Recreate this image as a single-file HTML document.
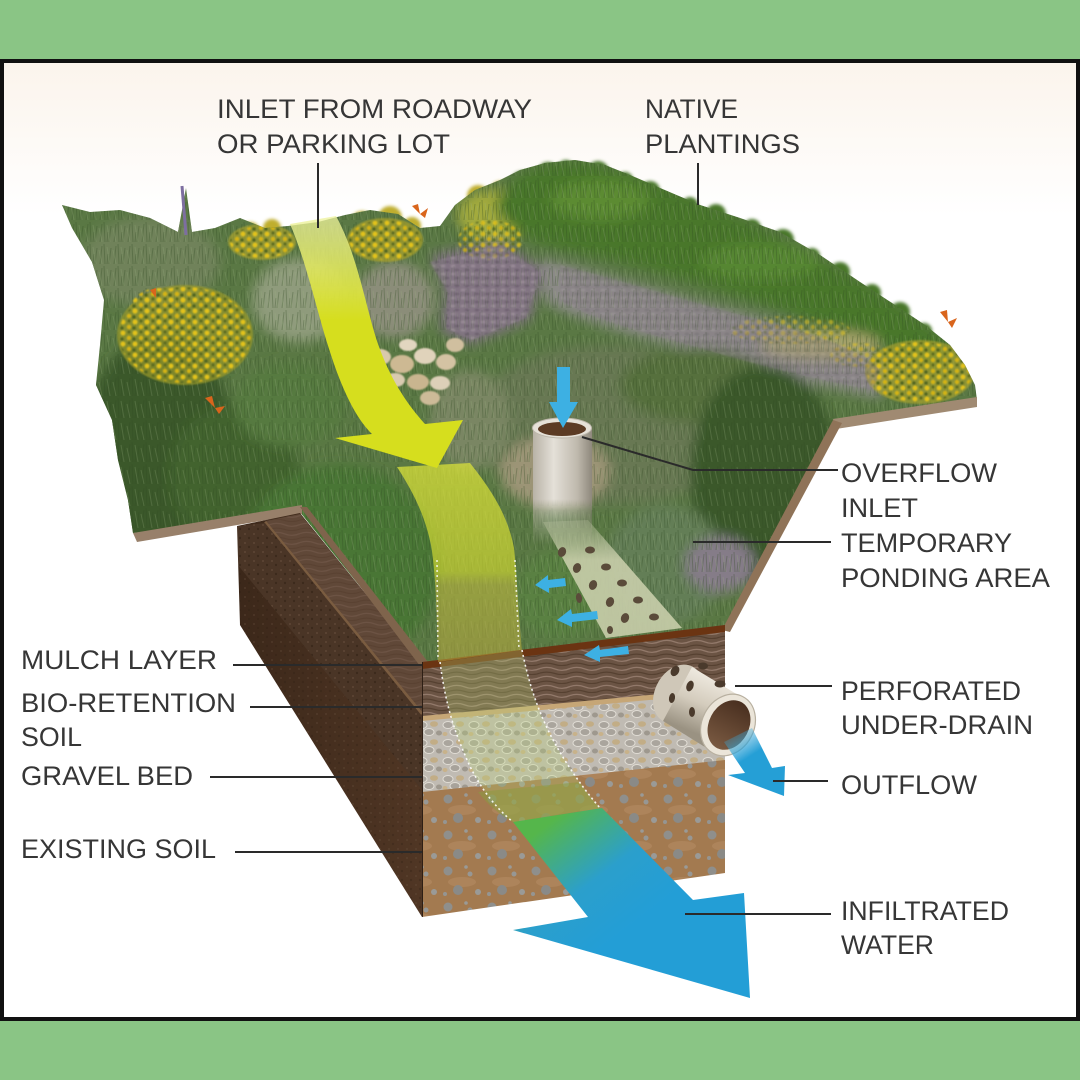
<!DOCTYPE html>
<html><head><meta charset="utf-8">
<style>
html,body{margin:0;padding:0;background:#8ac585;}
svg{display:block}
text{font-family:"Liberation Sans",Arial,sans-serif;font-size:27px;fill:#363636;}
</style></head>
<body>
<svg width="1080" height="1080" viewBox="0 0 1080 1080" xmlns="http://www.w3.org/2000/svg">
<defs>
 <linearGradient id="bg" x1="0" y1="0" x2="0" y2="1">
  <stop offset="0" stop-color="#fbf4ec"/>
  <stop offset="0.16" stop-color="#ffffff"/>
 </linearGradient>
 <clipPath id="landclip">
  <path d="M133,533 L128,500 L118,460 L112,420 L96,385 L100,345 L104,300 L92,262 L72,228 L62,205 L90,212 L120,210 L150,218 L178,232 L186,188 L192,232 L215,228 L240,218 L265,228 L288,226 L318,222 L345,215 L370,210 L398,214 L420,228 L440,226 L455,205 L475,190 L500,180 L520,170 L545,163 L575,160 L605,165 L630,175 L660,188 L700,205 L740,218 L780,232 L820,255 L860,282 L895,305 L925,325 L950,345 L965,365 L975,385 L977,400 L835,425 L725,630 L422,663 L300,512 Z"/>
 </clipPath>
 <clipPath id="leftface">
  <polygon points="237,526 300,513 422,663 422,917 240,625"/>
 </clipPath>
 <clipPath id="frontface">
  <polygon points="422,662 725,625 725,873 422,917"/>
 </clipPath>
 <filter id="b6" x="-20%" y="-20%" width="140%" height="140%"><feGaussianBlur stdDeviation="6"/></filter>
 <filter id="b2" x="-20%" y="-20%" width="140%" height="140%"><feGaussianBlur stdDeviation="1.5"/></filter>
 <filter id="b1" x="-20%" y="-20%" width="140%" height="140%"><feGaussianBlur stdDeviation="0.8"/></filter>
 <pattern id="grav" width="26" height="18" patternUnits="userSpaceOnUse">
  <rect width="26" height="18" fill="#c0bbb3"/>
  <ellipse cx="6" cy="5" rx="5" ry="3.5" fill="#aaa59d" stroke="#e0dcd4" stroke-width="1"/>
  <ellipse cx="18" cy="4" rx="4" ry="2.8" fill="#c2ad86"/>
  <ellipse cx="13" cy="12" rx="5" ry="3.5" fill="#a8a39b" stroke="#e0dcd4" stroke-width="1"/>
  <ellipse cx="23" cy="13" rx="3" ry="2.5" fill="#9e988e"/>
  <ellipse cx="3" cy="14" rx="2.5" ry="2" fill="#c8b28a"/>
 </pattern>
 <pattern id="soil" width="44" height="36" patternUnits="userSpaceOnUse">
  <rect width="44" height="36" fill="#a37a50"/>
  <ellipse cx="22" cy="18" rx="14" ry="5" fill="#b48a62" opacity=".6"/>
  <circle cx="8" cy="7" r="4.5" fill="#8f8f8c"/>
  <circle cx="30" cy="10" r="2.5" fill="#979794"/>
  <circle cx="18" cy="26" r="5" fill="#8a8a87"/>
  <circle cx="38" cy="28" r="3" fill="#9a9a97"/>
  <circle cx="5" cy="30" r="2" fill="#959592"/>
  <circle cx="26" cy="3" r="1.8" fill="#9a9a97"/>
 </pattern>
 <pattern id="mulch" width="30" height="9" patternUnits="userSpaceOnUse">
  <rect width="30" height="9" fill="#6b5444"/>
  <path d="M0 2.5 Q7.5 0 15 3 T30 2.5" stroke="#92796a" stroke-width="1.3" fill="none"/>
  <path d="M0 7 Q7.5 5 15 7.5 T30 7" stroke="#564131" stroke-width="1.2" fill="none"/>
 </pattern>
 <pattern id="flowers" width="12" height="11" patternUnits="userSpaceOnUse">
  <circle cx="3" cy="3" r="2.4" fill="#e2c21c"/>
  <circle cx="9" cy="8" r="2.2" fill="#d4b414"/>
  <circle cx="9" cy="2" r="1.6" fill="#5a6a20"/>
  <circle cx="2" cy="9" r="1.8" fill="#4d6420"/>
 </pattern>
 <pattern id="grass" width="14" height="22" patternUnits="userSpaceOnUse">
  <path d="M2 22 L4 4 M7 22 L6 2 M11 22 L13 6 M9 22 L10 12" stroke="#2f4a22" stroke-width="1" fill="none" opacity=".45"/>
  <path d="M4 22 L1 8 M12 22 L9 5" stroke="#9ab080" stroke-width="1" fill="none" opacity=".35"/>
 </pattern>
 <pattern id="gravpurp" width="10" height="8" patternUnits="userSpaceOnUse">
  <rect width="10" height="8" fill="#857886"/>
  <ellipse cx="3" cy="2" rx="2.5" ry="1.5" fill="#a598a2"/>
  <ellipse cx="7" cy="6" rx="2.5" ry="1.5" fill="#675a69"/>
 </pattern>
 <pattern id="speck" width="9" height="9" patternUnits="userSpaceOnUse">
  <circle cx="2" cy="3" r="1" fill="#6a5240" opacity=".6"/>
  <circle cx="6" cy="7" r="1.2" fill="#2e1e12" opacity=".5"/>
 </pattern>
 <linearGradient id="yarrow" x1="0" y1="215" x2="0" y2="320" gradientUnits="userSpaceOnUse">
  <stop offset="0" stop-color="#eef3a0" stop-opacity=".75"/>
  <stop offset="1" stop-color="#d6de1e"/>
 </linearGradient>
 <linearGradient id="yband" x1="0" y1="460" x2="0" y2="662" gradientUnits="userSpaceOnUse">
  <stop offset="0" stop-color="#dfe63a" stop-opacity=".72"/>
  <stop offset="0.55" stop-color="#d8df30" stop-opacity=".62"/>
  <stop offset="0.62" stop-color="#c8c040" stop-opacity=".55"/>
  <stop offset="1" stop-color="#b8a840" stop-opacity=".55"/>
 </linearGradient>
 <linearGradient id="blue" x1="560" y1="815" x2="640" y2="920" gradientUnits="userSpaceOnUse">
  <stop offset="0" stop-color="#55b64b"/>
  <stop offset="0.55" stop-color="#2b9fcc"/>
  <stop offset="1" stop-color="#239ed6"/>
 </linearGradient>
 <linearGradient id="metal" x1="533" y1="0" x2="592" y2="0" gradientUnits="userSpaceOnUse">
  <stop offset="0" stop-color="#b8b2a6"/>
  <stop offset="0.35" stop-color="#e4e0d8"/>
  <stop offset="0.75" stop-color="#bfb9ad"/>
  <stop offset="1" stop-color="#8e887c"/>
 </linearGradient>
 <linearGradient id="fadeV" x1="0" y1="430" x2="0" y2="545" gradientUnits="userSpaceOnUse">
  <stop offset="0" stop-color="#fff"/>
  <stop offset="0.6" stop-color="#fff"/>
  <stop offset="0.7" stop-color="#888"/>
  <stop offset="1" stop-color="#000"/>
 </linearGradient>
 <mask id="pipemask"><rect x="520" y="400" width="90" height="160" fill="url(#fadeV)"/></mask>
 <linearGradient id="perf" x1="0" y1="505" x2="0" y2="560" gradientUnits="userSpaceOnUse">
  <stop offset="0" stop-color="#c8ccae" stop-opacity="0"/>
  <stop offset="1" stop-color="#c6cca8" stop-opacity=".92"/>
 </linearGradient>
 <linearGradient id="hpipe" x1="705" y1="672" x2="682" y2="728" gradientUnits="userSpaceOnUse">
  <stop offset="0" stop-color="#efeae0"/>
  <stop offset="0.5" stop-color="#d4ccbd"/>
  <stop offset="1" stop-color="#9a9282"/>
 </linearGradient>
 <linearGradient id="inner" x1="0" y1="700" x2="0" y2="752" gradientUnits="userSpaceOnUse">
  <stop offset="0" stop-color="#4a3020"/>
  <stop offset="1" stop-color="#7a5a42"/>
 </linearGradient>
 <linearGradient id="outflow" x1="735" y1="735" x2="770" y2="790" gradientUnits="userSpaceOnUse">
  <stop offset="0" stop-color="#3fa8d8" stop-opacity=".3"/>
  <stop offset="0.4" stop-color="#259fd6"/>
  <stop offset="1" stop-color="#259fd6"/>
 </linearGradient>
 <linearGradient id="lf" x1="240" y1="0" x2="422" y2="0" gradientUnits="userSpaceOnUse">
  <stop offset="0" stop-color="#3c281a"/>
  <stop offset="1" stop-color="#503624"/>
 </linearGradient>
</defs>

<!-- frame -->
<rect width="1080" height="1080" fill="#8ac585"/>
<rect x="0" y="59" width="1080" height="962" fill="#111"/>
<rect x="4" y="63" width="1072" height="954" fill="url(#bg)"/>

<!-- bumpy hill silhouette -->
<g fill="#4a772a" filter="url(#b2)">
 <circle cx="522" cy="182" r="11"/><circle cx="548" cy="172" r="10"/><circle cx="566" cy="168" r="8"/>
 <circle cx="598" cy="172" r="11"/><circle cx="625" cy="180" r="8"/><circle cx="650" cy="191" r="10"/>
 <circle cx="690" cy="205" r="8"/><circle cx="716" cy="214" r="10"/><circle cx="752" cy="228" r="9"/>
 <circle cx="783" cy="240" r="11"/><circle cx="812" cy="256" r="8"/><circle cx="840" cy="272" r="10"/>
 <circle cx="872" cy="293" r="9"/><circle cx="900" cy="312" r="10"/><circle cx="924" cy="331" r="8"/>
</g>
<g fill="#bfae2e" filter="url(#b2)">
 <circle cx="250" cy="232" r="10"/><circle cx="272" cy="228" r="9"/>
 <circle cx="362" cy="222" r="11"/><circle cx="390" cy="218" r="12"/><circle cx="412" cy="226" r="9"/>
 <circle cx="478" cy="196" r="11"/><circle cx="500" cy="190" r="9"/>
</g>

<!-- landscape -->
<g clip-path="url(#landclip)">
 <rect x="50" y="150" width="950" height="530" fill="#5a7844"/>
 <g filter="url(#b6)">
  <ellipse cx="150" cy="262" rx="70" ry="45" fill="#6f825a"/>
  <ellipse cx="160" cy="445" rx="75" ry="110" fill="#3b582a"/>
  <ellipse cx="235" cy="475" rx="65" ry="70" fill="#43632e"/>
  <ellipse cx="300" cy="300" rx="48" ry="42" fill="#8f9b7c"/>
  <ellipse cx="395" cy="300" rx="40" ry="38" fill="#8b8d79"/>
  <polygon points="430,255 500,240 545,270 530,320 470,345 440,330 445,290" fill="#7f7081"/>
  <ellipse cx="495" cy="215" rx="38" ry="26" fill="#a2aa3c"/>
  <path d="M495,205 C510,175 540,160 580,162 C630,168 690,195 760,228 C830,262 900,300 950,345 L935,368 C880,342 820,322 760,302 C690,280 620,258 560,248 C530,242 505,230 495,205 Z" fill="#487729"/>
  <ellipse cx="600" cy="200" rx="50" ry="20" fill="#5b8b33"/>
  <ellipse cx="760" cy="262" rx="60" ry="18" fill="#578731"/>
  <path d="M540,258 C600,272 680,298 760,317 C820,332 870,347 890,367 L880,398 C830,388 760,372 700,352 C640,337 580,322 545,302 Z" fill="#8c8a88"/>
  <ellipse cx="820" cy="345" rx="60" ry="15" fill="#a6a26a"/>
  <ellipse cx="610" cy="425" rx="140" ry="80" fill="#687853"/>
  <ellipse cx="700" cy="385" rx="80" ry="38" fill="#56703e"/>
  <ellipse cx="765" cy="475" rx="75" ry="110" fill="#3a582b"/>
  <ellipse cx="555" cy="472" rx="55" ry="36" fill="#9c9476"/>
  <ellipse cx="340" cy="565" rx="100" ry="100" fill="#497636"/>
  <ellipse cx="290" cy="405" rx="55" ry="42" fill="#567a3f"/>
  <ellipse cx="560" cy="595" rx="45" ry="45" fill="#5a8143"/>
  <ellipse cx="665" cy="565" rx="60" ry="60" fill="#647e57"/>
  <ellipse cx="470" cy="420" rx="40" ry="50" fill="#7a8664"/>
  <ellipse cx="720" cy="565" rx="35" ry="28" fill="#857c88"/>
 </g>
 <rect x="50" y="150" width="950" height="530" fill="url(#grass)" opacity=".7"/>
 <!-- yellow shrubs -->
 <g filter="url(#b1)">
  <ellipse cx="185" cy="335" rx="68" ry="50" fill="#9a9a28" opacity=".7"/>
  <ellipse cx="185" cy="335" rx="66" ry="48" fill="url(#flowers)"/>
  <ellipse cx="160" cy="310" rx="30" ry="22" fill="url(#flowers)"/>
  <ellipse cx="262" cy="242" rx="34" ry="18" fill="#a8a22e" opacity=".7"/>
  <ellipse cx="262" cy="242" rx="32" ry="16" fill="url(#flowers)"/>
  <ellipse cx="385" cy="240" rx="38" ry="22" fill="#a8a02a" opacity=".7"/>
  <ellipse cx="385" cy="240" rx="36" ry="20" fill="url(#flowers)"/>
  <ellipse cx="490" cy="240" rx="32" ry="20" fill="url(#flowers)" opacity=".8"/>
  <ellipse cx="920" cy="372" rx="55" ry="32" fill="#a4a02c" opacity=".7"/>
  <ellipse cx="920" cy="372" rx="53" ry="30" fill="url(#flowers)"/>
  <ellipse cx="790" cy="330" rx="60" ry="14" fill="url(#flowers)" opacity=".55"/>
  <ellipse cx="860" cy="355" rx="30" ry="12" fill="url(#flowers)" opacity=".55"/>
  <polygon points="430,262 500,245 540,272 526,318 472,340 446,328 448,292" fill="url(#gravpurp)" opacity=".6"/>
  <path d="M560,265 C620,280 690,302 760,320 C820,335 860,350 880,370 L872,390 C820,380 760,366 700,348 C640,332 590,318 560,300 Z" fill="url(#gravpurp)" opacity=".35"/>
 </g>
 <!-- boulders -->
 <g filter="url(#b1)">
  <ellipse cx="380" cy="357" rx="11" ry="8" fill="#d9c9ac"/>
  <ellipse cx="402" cy="364" rx="12" ry="9" fill="#cdb993"/>
  <ellipse cx="425" cy="356" rx="11" ry="8" fill="#e0d3bb"/>
  <ellipse cx="446" cy="362" rx="10" ry="8" fill="#d4c3a3"/>
  <ellipse cx="395" cy="380" rx="10" ry="7" fill="#d9cbb0"/>
  <ellipse cx="418" cy="382" rx="11" ry="8" fill="#c9b58f"/>
  <ellipse cx="440" cy="383" rx="10" ry="7" fill="#ddd0b8"/>
  <ellipse cx="455" cy="345" rx="9" ry="7" fill="#d0bf9f"/>
  <ellipse cx="408" cy="345" rx="9" ry="6" fill="#e2d6c0"/>
  <ellipse cx="430" cy="398" rx="10" ry="7" fill="#cdbb98"/>
 </g>
</g>
<line x1="186" y1="235" x2="182" y2="186" stroke="#7d6ea0" stroke-width="3"/>

<!-- butterflies -->
<g fill="#d9651c">
 <path d="M412,206 l8,8 l-2,-10 z M420,214 l8,-6 l-3,10 z"/>
 <path d="M940,312 l8,10 l-1,-12 z M948,322 l9,-4 l-5,10 z"/>
 <path d="M150,290 l6,8 l0,-10 z"/>
 <path d="M205,398 l10,10 l-3,-12 z M215,408 l10,-2 l-6,8 z"/>
</g>

<!-- lips -->
<polygon points="133,533 302,505 302,514 137,542" fill="#98806a"/>
<polygon points="833,419 977,397 977,407 836,429" fill="#a08a72"/>

<!-- left face -->
<g clip-path="url(#leftface)">
 <rect x="230" y="500" width="200" height="430" fill="url(#lf)"/>
 <polygon points="265,521 300,514 422,663 422,712" fill="#5c4333"/>
 <polygon points="265,521 300,514 422,663 422,712" fill="url(#mulch)" opacity=".3"/>
 <line x1="265" y1="522" x2="422" y2="714" stroke="#7a5c40" stroke-width="3"/>
 <polygon points="237,526 265,523 422,716 422,790 237,564" fill="#4a3526"/>
 <polygon points="237,526 265,523 422,716 422,790 237,564" fill="url(#speck)"/>
 <polygon points="237,566 422,792 422,917 237,625" fill="url(#speck)" opacity=".6"/>
</g>
<polygon points="300,507 307,507 428,662 420,666" fill="#7f644c"/>
<polygon points="833,420 842,423 730,632 722,630" fill="#8f7358"/>

<!-- front face -->
<g clip-path="url(#frontface)">
 <polygon points="422,660 725,622 725,690 422,718" fill="url(#mulch)"/>
 <polygon points="422,716 725,688 725,694 422,722" fill="#c6a676"/>
 <polygon points="422,721 725,693 725,761 422,793" fill="url(#grav)"/>
 <polygon points="422,792 725,760 725,880 422,920" fill="url(#soil)"/>
 <polygon points="422,660 725,622 725,632 422,669" fill="#6b3412"/>
 <path d="M440,662 C445,700 452,725 465,755 C475,780 492,805 513,822 L600,808 C580,785 560,755 548,730 C536,705 528,680 522,650 Z" fill="#b8d478" opacity=".3"/>
 <path d="M478,792 C488,805 500,815 513,822 L600,808 C592,800 585,792 580,782 Z" fill="#8c9a40" opacity=".55"/>
 <line x1="422" y1="662" x2="422" y2="917" stroke="#2e1f15" stroke-width="2"/>
</g>
<path d="M440,662 C445,700 452,725 465,755 C475,780 492,805 513,822" fill="none" stroke="#fff" stroke-width="1.6" stroke-dasharray="2 3" opacity=".9"/>
<path d="M522,650 C528,680 536,705 548,730 C560,755 580,785 600,808" fill="none" stroke="#fff" stroke-width="1.6" stroke-dasharray="2 3" opacity=".9"/>

<!-- big blue arrow -->
<polygon points="513,822 602,808 693,900 744,893 750,998 513,930 588,917" fill="url(#blue)"/>

<!-- yellow band above section -->
<path d="M397,467 C412,490 425,515 431,545 C436,575 437,620 438,662 L522,650 C518,610 517,575 514,548 C508,515 490,488 470,463 Z" fill="url(#yband)"/>
<line x1="437" y1="560" x2="438" y2="660" stroke="#fff" stroke-width="1.6" stroke-dasharray="2 3" opacity=".8"/>
<line x1="515" y1="560" x2="519" y2="650" stroke="#fff" stroke-width="1.6" stroke-dasharray="2 3" opacity=".8"/>

<!-- yellow arrow -->
<path d="M290,224 C310,270 320,330 340,380 C350,405 360,422 372,434 L335,438 L437,468 L463,420 L425,424 C405,402 388,375 376,338 C364,298 356,252 336,216 Z" fill="url(#yarrow)"/>

<!-- overflow standpipe -->
<g mask="url(#pipemask)">
 <rect x="533" y="428" width="59" height="120" fill="url(#metal)"/>
</g>
<ellipse cx="562" cy="428" rx="29.5" ry="10" fill="#e6e1d8" stroke="#bdb7ab" stroke-width="1"/>
<ellipse cx="562" cy="429" rx="24" ry="7" fill="#5c3b24"/>
<rect x="557" y="367" width="13" height="38" fill="#3db0e3"/>
<polygon points="549,402 578,402 563,428" fill="#3db0e3"/>

<!-- perforated band on ground -->
<polygon points="543,522 588,520 682,628 606,638" fill="url(#perf)"/>
<g fill="#5a4b3a">
 <ellipse cx="562" cy="552" rx="4" ry="5" transform="rotate(20 562 552)"/>
 <ellipse cx="590" cy="550" rx="5" ry="3.5"/>
 <ellipse cx="577" cy="568" rx="4" ry="5" transform="rotate(20 577 568)"/>
 <ellipse cx="606" cy="567" rx="5" ry="3.5"/>
 <ellipse cx="593" cy="585" rx="4" ry="5" transform="rotate(20 593 585)"/>
 <ellipse cx="622" cy="583" rx="5" ry="3.5"/>
 <ellipse cx="579" cy="598" rx="3" ry="5" transform="rotate(-10 579 598)"/>
 <ellipse cx="610" cy="602" rx="4" ry="5" transform="rotate(20 610 602)"/>
 <ellipse cx="638" cy="600" rx="5" ry="3.5"/>
 <ellipse cx="625" cy="618" rx="4" ry="5" transform="rotate(20 625 618)"/>
 <ellipse cx="654" cy="617" rx="5" ry="3.5"/>
 <ellipse cx="610" cy="630" rx="3" ry="4"/>
</g>
<!-- small blue arrows -->
<g fill="#3db0e3">
 <polygon points="565,578 548,580 548,575 535,585 549,593 549,588 566,586"/>
 <polygon points="597,611 572,614 571,609 557,620 572,627 572,622 598,619"/>
 <polygon points="628,646 600,650 599,645 584,655 600,662 600,657 629,654"/>
</g>

<!-- horizontal perforated under-drain -->
<ellipse cx="678" cy="694" rx="23" ry="31" transform="rotate(28 678 694)" fill="#cfc7b8"/>
<polygon points="692,667 743,698 713,752 663,721" fill="url(#hpipe)"/>
<g fill="#4a3a2c">
 <ellipse cx="675" cy="671" rx="4" ry="5.5" transform="rotate(30 675 671)"/>
 <ellipse cx="703" cy="666" rx="5" ry="3.5"/>
 <ellipse cx="720" cy="684" rx="5.5" ry="3.5"/>
 <ellipse cx="690" cy="686" rx="3.5" ry="5.5" transform="rotate(20 690 686)"/>
 <ellipse cx="672" cy="698" rx="3" ry="5" transform="rotate(10 672 698)"/>
 <ellipse cx="692" cy="712" rx="3" ry="5"/>
</g>
<ellipse cx="728" cy="725" rx="26" ry="32" transform="rotate(28 728 725)" fill="#ebe5d9" stroke="#b8b0a0" stroke-width="1.2"/>
<ellipse cx="729" cy="725" rx="20" ry="26" transform="rotate(28 729 725)" fill="url(#inner)"/>
<polygon points="724,742 752,728 772,768 785,766 784,796 728,775 745,773" fill="url(#outflow)"/>

<!-- leader lines -->
<g stroke="#2a2a2a" stroke-width="2" fill="none">
 <line x1="318" y1="163" x2="318" y2="228"/>
 <line x1="698" y1="163" x2="698" y2="205"/>
 <polyline points="582,437 693,470 838,470"/>
 <line x1="693" y1="542" x2="831" y2="542"/>
 <line x1="735" y1="686" x2="832" y2="686"/>
 <line x1="773" y1="781" x2="828" y2="781"/>
 <line x1="685" y1="914" x2="831" y2="914"/>
 <line x1="233" y1="665" x2="422" y2="665"/>
 <line x1="250" y1="707" x2="422" y2="707"/>
 <line x1="210" y1="777" x2="422" y2="777"/>
 <line x1="235" y1="852" x2="422" y2="852"/>
</g>

<!-- labels -->
<text x="217" y="118" textLength="315" lengthAdjust="spacingAndGlyphs">INLET FROM ROADWAY</text>
<text x="217" y="153" textLength="233" lengthAdjust="spacingAndGlyphs">OR PARKING LOT</text>
<text x="645" y="118" textLength="93" lengthAdjust="spacingAndGlyphs">NATIVE</text>
<text x="645" y="153" textLength="155" lengthAdjust="spacingAndGlyphs">PLANTINGS</text>
<text x="841" y="482" textLength="156" lengthAdjust="spacingAndGlyphs">OVERFLOW</text>
<text x="841" y="517" textLength="77" lengthAdjust="spacingAndGlyphs">INLET</text>
<text x="841" y="552" textLength="171" lengthAdjust="spacingAndGlyphs">TEMPORARY</text>
<text x="841" y="587" textLength="209" lengthAdjust="spacingAndGlyphs">PONDING AREA</text>
<text x="841" y="700" textLength="180" lengthAdjust="spacingAndGlyphs">PERFORATED</text>
<text x="841" y="734" textLength="192" lengthAdjust="spacingAndGlyphs">UNDER-DRAIN</text>
<text x="841" y="794" textLength="136" lengthAdjust="spacingAndGlyphs">OUTFLOW</text>
<text x="841" y="920" textLength="168" lengthAdjust="spacingAndGlyphs">INFILTRATED</text>
<text x="841" y="954" textLength="93" lengthAdjust="spacingAndGlyphs">WATER</text>
<text x="21" y="669" textLength="196" lengthAdjust="spacingAndGlyphs">MULCH LAYER</text>
<text x="21" y="712" textLength="215" lengthAdjust="spacingAndGlyphs">BIO-RETENTION</text>
<text x="21" y="746" textLength="61" lengthAdjust="spacingAndGlyphs">SOIL</text>
<text x="21" y="785" textLength="172" lengthAdjust="spacingAndGlyphs">GRAVEL BED</text>
<text x="21" y="858" textLength="195" lengthAdjust="spacingAndGlyphs">EXISTING SOIL</text>
</svg>
</body></html>
